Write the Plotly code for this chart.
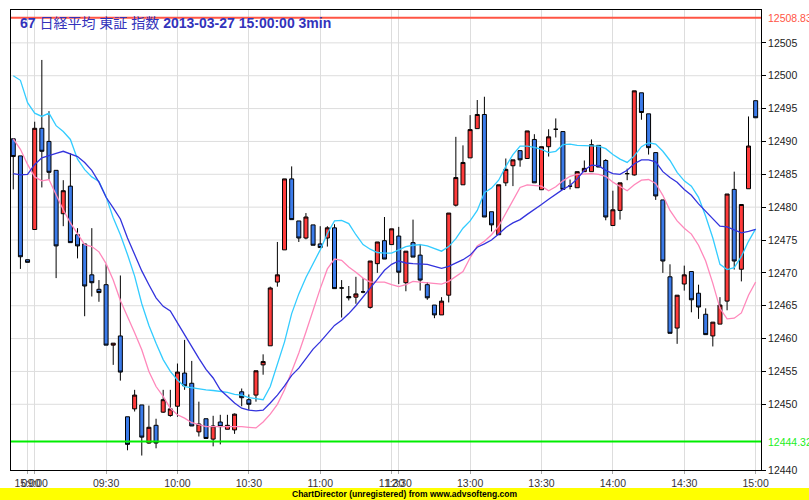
import plotly.graph_objects as go

# ---- data (3-minute bars, index 0 = prev-day 14:54) ----
opens = [12490.4, 12487.8, 12472.0, 12476.6, 12492.0, 12490.0, 12485.6, 12479.0, 12483.2, 12475.8,
         12474.4, 12469.7, 12467.5, 12468.2, 12459.0, 12460.4, 12448.1, 12449.3, 12449.9, 12444.1,
         12446.8, 12448.8, 12448.3, 12449.7, 12454.75, 12453.2, 12445.8, 12447.8, 12444.7, 12447.3,
         12446.2, 12446.1, 12451.9, 12450.7, 12451.4, 12456.0, 12458.9, 12468.6, 12473.5, 12484.3,
         12477.9, 12475.3, 12477.3, 12474.4, 12475.3, 12476.85, 12467.7, 12466.4, 12466.3, 12467.1,
         12464.75, 12471.4, 12474.9, 12474.3, 12475.6, 12468.5, 12474.6, 12472.7, 12468.2, 12465.1,
         12463.6, 12466.6, 12480.3, 12483.4, 12487.5, 12491.95, 12494.1, 12479.3, 12475.8, 12483.7,
         12486.3, 12488.6, 12487.4, 12490.3, 12482.65, 12489.2, 12491.85, 12491.5, 12483.2, 12482.95,
         12485.4, 12485.4, 12489.4, 12487.1, 12477.2, 12479.5, 12485.1, 12484.9, 12497.4, 12494.2,
         12488.3, 12481.1, 12469.4, 12461.6, 12468.3, 12470.2, 12466.9, 12463.7, 12460.4, 12462.2,
         12465.7, 12482.7, 12470.55, 12482.8, 12496.2]
highs = [12490.4, 12487.8, 12472.0, 12493.0, 12502.4, 12494.6, 12485.6, 12484.1, 12488.2, 12476.8,
         12474.4, 12476.8, 12468.9, 12471.3, 12459.3, 12469.6, 12448.1, 12452.2, 12449.9, 12449.8,
         12447.8, 12452.2, 12452.2, 12456.2, 12459.8, 12456.6, 12450.4, 12447.8, 12448.25, 12448.4,
         12448.4, 12448.6, 12452.4, 12451.5, 12455.1, 12457.6, 12467.9, 12474.7, 12484.3, 12486.2,
         12477.9, 12479.1, 12477.3, 12477.1, 12477.1, 12477.4, 12468.9, 12468.0, 12469.4, 12469.2,
         12471.8, 12474.7, 12478.5, 12476.7, 12477.0, 12473.3, 12478.1, 12474.4, 12468.6, 12465.1,
         12466.3, 12479.1, 12490.7, 12489.4, 12494.0, 12496.3, 12496.8, 12479.3, 12483.4, 12487.4,
         12487.2, 12488.6, 12491.6, 12491.1, 12489.2, 12491.85, 12493.5, 12491.5, 12484.2, 12485.4,
         12487.1, 12490.3, 12489.4, 12487.3, 12482.5, 12483.7, 12485.85, 12497.7, 12497.4, 12494.2,
         12488.3, 12481.1, 12471.3, 12466.6, 12471.1, 12470.2, 12468.2, 12464.6, 12462.5, 12466.3,
         12482.0, 12485.4, 12480.4, 12493.8, 12496.2]
lows = [12482.7, 12470.6, 12471.6, 12476.6, 12483.0, 12484.2, 12469.2, 12477.1, 12474.6, 12472.2,
        12463.4, 12466.4, 12465.6, 12459.0, 12456.0, 12453.6, 12443.0, 12448.9, 12442.2, 12444.0,
        12443.3, 12448.7, 12448.1, 12448.1, 12452.2, 12446.7, 12445.1, 12444.8, 12443.6, 12443.9,
        12446.2, 12445.5, 12449.7, 12449.1, 12450.4, 12454.5, 12458.9, 12467.9, 12473.5, 12478.1,
        12474.7, 12475.1, 12474.2, 12473.8, 12474.0, 12467.6, 12463.2, 12465.8, 12465.3, 12466.9,
        12464.55, 12470.0, 12472.1, 12474.3, 12468.3, 12467.2, 12472.4, 12467.3, 12465.9, 12463.1,
        12463.6, 12465.5, 12480.1, 12483.4, 12487.5, 12491.95, 12478.5, 12476.3, 12475.8, 12483.2,
        12483.2, 12486.15, 12487.4, 12483.7, 12482.65, 12487.7, 12490.6, 12482.7, 12482.7, 12482.95,
        12485.4, 12485.4, 12486.1, 12478.0, 12477.2, 12478.1, 12484.1, 12484.8, 12493.3, 12488.0,
        12481.1, 12470.0, 12460.8, 12459.2, 12467.3, 12464.0, 12463.0, 12460.6, 12458.8, 12462.2,
        12464.3, 12470.5, 12468.7, 12482.8, 12493.6]
closes = [12487.7, 12472.45, 12471.6, 12492.0, 12488.5, 12485.3, 12474.1, 12482.5, 12474.6, 12474.1,
          12468.0, 12468.5, 12467.0, 12459.0, 12459.3, 12454.9, 12443.9, 12451.4, 12445.0, 12446.5,
          12444.1, 12450.7, 12449.3, 12454.9, 12452.8, 12446.7, 12447.0, 12444.8, 12446.7, 12446.6,
          12446.8, 12448.5, 12451.0, 12450.0, 12455.1, 12456.5, 12467.7, 12469.7, 12484.3, 12478.1,
          12475.3, 12478.5, 12474.2, 12473.85, 12476.85, 12467.6, 12467.7, 12466.2, 12466.8, 12467.1,
          12471.8, 12474.7, 12472.1, 12476.7, 12470.1, 12473.3, 12472.4, 12468.9, 12466.2, 12463.6,
          12465.7, 12479.1, 12484.5, 12486.8, 12491.8, 12494.1, 12478.5, 12477.3, 12483.4, 12485.75,
          12487.2, 12487.2, 12491.6, 12483.7, 12489.2, 12490.7, 12491.85, 12482.7, 12483.2, 12485.4,
          12485.9, 12489.5, 12486.1, 12478.5, 12479.6, 12483.7, 12485.1, 12497.7, 12494.4, 12489.05,
          12481.7, 12471.8, 12460.8, 12466.6, 12469.7, 12465.9, 12464.8, 12460.6, 12462.5, 12465.1,
          12482.0, 12471.8, 12480.4, 12489.3, 12493.6]

# moving-average lines (one value per bar)
ma_cyan = [12500.0, 12499.3, 12495.9, 12494.3, 12493.8, 12494.3, 12492.4, 12491.5, 12490.3, 12487.3,
           12485.7, 12484.6, 12483.9, 12481.6, 12478.4, 12475.8, 12472.8, 12469.5, 12465.3, 12462.0,
           12459.3, 12456.8, 12455.0, 12453.7, 12452.7, 12452.5, 12452.4, 12452.2, 12452.1, 12452.0,
           12451.8, 12451.5, 12451.4, 12451.0, 12450.8, 12450.7, 12452.7, 12456.0, 12459.5, 12463.8,
           12466.8, 12469.3, 12471.3, 12473.5, 12476.0, 12477.9, 12478.0, 12477.5, 12475.8, 12474.3,
           12473.6, 12473.1, 12473.0, 12473.0, 12473.5, 12474.0, 12474.2, 12474.3, 12474.1, 12473.7,
           12473.3, 12474.0, 12475.2, 12476.8, 12477.9, 12479.5, 12482.2, 12482.9, 12484.1, 12486.2,
           12488.0, 12489.3, 12489.3, 12489.1, 12488.8, 12488.3, 12488.5, 12489.5, 12489.6, 12489.4,
           12489.4, 12489.4, 12489.3, 12488.9, 12488.0, 12487.3, 12486.8, 12487.8, 12489.2, 12489.8,
           12489.6, 12488.5, 12487.1, 12485.3, 12484.0, 12483.2, 12481.5, 12478.6, 12475.3, 12471.3,
           12470.5, 12470.8, 12472.5, 12474.8, 12476.7]
ma_pink = [12490.4, 12488.8, 12486.5, 12484.6, 12484.0, 12484.2, 12481.9, 12479.6, 12477.6, 12476.0,
           12474.3, 12474.0, 12473.2, 12471.4, 12468.9, 12465.8, 12463.4, 12460.9, 12458.3, 12455.0,
           12452.7, 12451.2, 12449.4, 12448.4, 12447.9, 12447.2, 12446.9, 12446.6, 12446.6, 12446.6,
           12446.7, 12446.6, 12446.6, 12446.5, 12446.4, 12447.3, 12448.5, 12450.0, 12452.2, 12455.0,
           12457.8, 12461.0, 12464.4, 12467.6, 12470.6, 12472.1, 12471.9, 12470.9, 12470.1, 12469.2,
           12468.6, 12468.6, 12468.6, 12468.2, 12467.9, 12468.2, 12468.7, 12468.6, 12468.5, 12468.4,
           12468.3, 12468.7, 12469.5, 12470.2, 12472.3, 12474.1, 12474.8, 12475.8, 12477.1, 12479.1,
           12481.2, 12483.0, 12483.4, 12483.3, 12483.2, 12482.5, 12483.1, 12484.0, 12484.7, 12485.0,
           12485.1, 12485.1, 12485.0, 12484.7, 12483.8, 12483.1, 12482.5, 12483.4, 12484.1, 12484.2,
           12483.6, 12481.8, 12479.5, 12477.9, 12476.8, 12475.9, 12474.2, 12471.8, 12468.4, 12464.6,
           12463.0, 12463.1, 12463.9, 12466.6, 12468.6]
ma_blue = [12485.1, 12484.9, 12485.0, 12486.5, 12487.5, 12487.9, 12488.2, 12488.5, 12488.1, 12487.7,
           12486.8, 12485.6, 12483.8, 12481.5, 12479.9, 12478.2, 12475.3, 12472.9, 12470.3, 12468.2,
           12466.2, 12464.9, 12464.2, 12462.4, 12460.6, 12458.6, 12457.0, 12455.3, 12454.0, 12452.2,
           12451.2, 12450.2, 12449.4, 12449.1, 12449.0, 12449.1, 12450.2, 12451.4, 12452.8, 12454.4,
           12455.5, 12456.9, 12458.4, 12459.5, 12460.7, 12462.0, 12462.8, 12463.8, 12465.0, 12466.3,
           12467.7, 12469.0, 12470.4, 12471.3, 12471.8, 12471.5, 12471.4, 12471.4, 12471.3, 12471.0,
           12470.7, 12471.0, 12471.5, 12472.0, 12472.7, 12473.9, 12474.4, 12475.0, 12475.9, 12476.9,
           12477.6, 12478.1, 12478.9, 12479.6, 12480.4, 12481.2, 12482.0, 12482.7, 12483.3, 12484.3,
           12485.6, 12486.4, 12486.3, 12485.6, 12485.1, 12485.0, 12485.6, 12486.6, 12487.2, 12487.2,
           12486.9, 12485.4, 12484.5, 12483.8, 12482.7, 12481.8, 12480.5, 12479.4, 12478.3, 12477.1,
           12477.0, 12476.5, 12476.1, 12476.3, 12476.6]

tick_pos = [2, 3, 13, 23, 33, 43, 53, 54, 64, 74, 84, 94, 104]
tick_text = ["15:00", "09:00", "09:30", "10:00", "10:30", "11:00", "11:30", "12:30",
             "13:00", "13:30", "14:00", "14:30", "15:00"]
y_ticks = [12440, 12450, 12455, 12460, 12465, 12470, 12475, 12480, 12485,
           12490, 12495, 12500, 12505]
y_grid = [12450, 12455, 12460, 12465, 12470, 12475, 12480, 12485, 12490, 12495, 12500, 12505]
prev_high = 12508.83
prev_low = 12444.32
title_code = "67"
title_name = "日経平均 東証 指数"
title_stamp = "2013-03-27 15:00:00 3min"

bars = list(range(len(opens)))

fig = go.Figure()
fig.add_trace(go.Candlestick(
    x=bars, open=opens, high=highs, low=lows, close=closes,
    increasing=dict(fillcolor="#ff3b3b", line=dict(color="#000000", width=1)),
    decreasing=dict(fillcolor="#3b7bea", line=dict(color="#000000", width=1)),
    whiskerwidth=0, showlegend=False, hoverinfo="skip"))
fig.add_trace(go.Scatter(x=bars, y=ma_pink, mode="lines",
                         line=dict(color="#ff88bb", width=1.3), showlegend=False, hoverinfo="skip"))
fig.add_trace(go.Scatter(x=bars, y=ma_cyan, mode="lines",
                         line=dict(color="#33ccff", width=1.3), showlegend=False, hoverinfo="skip"))
fig.add_trace(go.Scatter(x=bars, y=ma_blue, mode="lines",
                         line=dict(color="#3333dd", width=1.3), showlegend=False, hoverinfo="skip"))

W, H = 809, 500
ml, mr, mt, mb = 11, 48, 10, 30
pw, ph = W - ml - mr, H - mt - mb

def px_x(p):
    return (p - ml) / pw

def px_y(p):
    return (H - mb - p) / ph

shapes = []
for g in y_grid:
    shapes.append(dict(type="line", xref="paper", yref="y", x0=0, x1=1, y0=g, y1=g,
                       line=dict(color="#dddddd", width=1), layer="below"))
shapes += [
    dict(type="line", xref="paper", yref="y", x0=0, x1=1, y0=prev_high, y1=prev_high,
         line=dict(color="#ff5544", width=2)),
    dict(type="line", xref="paper", yref="y", x0=0, x1=1, y0=prev_low, y1=prev_low,
         line=dict(color="#00ee00", width=2)),
    dict(type="rect", xref="paper", yref="paper", x0=px_x(0), x1=px_x(W), y0=px_y(H), y1=px_y(488),
         fillcolor="#ffff00", line=dict(width=0), layer="below"),
]
annotations = [
    dict(xref="paper", yref="y", x=1, y=prev_high, xanchor="left", yanchor="middle", xshift=5,
         text=f"{prev_high:.2f}", showarrow=False, font=dict(family="Arial", size=10.5, color="#ff5544")),
    dict(xref="paper", yref="y", x=1, y=prev_low, xanchor="left", yanchor="middle", xshift=5,
         text=f"{prev_low:.2f}", showarrow=False, font=dict(family="Arial", size=10.5, color="#22ee22")),
    dict(xref="paper", yref="paper", x=px_x(18), y=px_y(23), xanchor="left", yanchor="middle",
         text=f"<b>{title_code}</b> {title_name} <b>{title_stamp}</b>", showarrow=False,
         font=dict(family="Arial, Noto Sans CJK JP", size=14, color="#3333bb")),
    dict(xref="paper", yref="paper", x=px_x(404), y=px_y(494), xanchor="center", yanchor="middle",
         text="<b>ChartDirector (unregistered) from www.advsofteng.com</b>", showarrow=False,
         font=dict(family="Arial", size=8.5, color="#000000")),
]

fig.update_layout(
    width=W, height=H, margin=dict(l=ml, r=mr, t=mt, b=mb, autoexpand=False),
    paper_bgcolor="white", plot_bgcolor="white",
    boxgap=0.2, boxgroupgap=0.3,
    shapes=shapes, annotations=annotations,
    xaxis=dict(range=[-0.32, 104.75], tickmode="array", tickvals=tick_pos, ticktext=tick_text,
               automargin=False, tickangle=0,
               showgrid=True, gridcolor="#dddddd", gridwidth=1, zeroline=False,
               showline=True, linecolor="#000000", linewidth=1, mirror=True,
               ticks="outside", ticklen=3, tickcolor="#aaaaaa",
               tickfont=dict(family="Arial", size=10.5, color="#333333"),
               rangeslider=dict(visible=False), fixedrange=True),
    yaxis=dict(range=[12440, 12510], side="right", tickmode="array", tickvals=y_ticks,
               ticktext=[str(v) for v in y_ticks], automargin=False,
               showgrid=False, zeroline=False,
               showline=True, linecolor="#000000", linewidth=1, mirror=True,
               ticks="outside", ticklen=4, tickcolor="#000000",
               tickfont=dict(family="Arial", size=10.5, color="#222222"), fixedrange=True),
)

# the page body has a default 8px margin; remove it so the 809x500 figure fills the window exactly
fig.write_html("out.html", config={"displayModeBar": False, "staticPlot": True},
               post_script="document.body.style.margin='0px';document.body.style.overflow='hidden';")
